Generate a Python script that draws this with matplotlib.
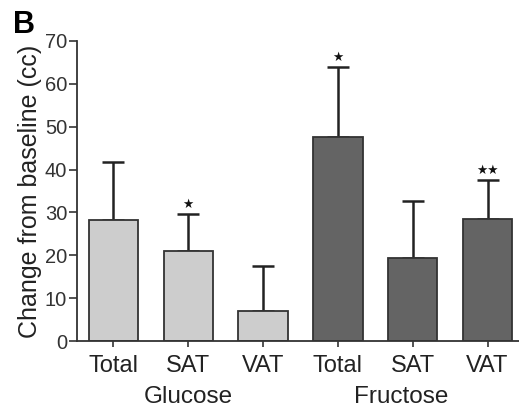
import numpy as np
import matplotlib
matplotlib.use("Agg")
import matplotlib.pyplot as plt

plt.rcParams['font.family'] = ['Liberation Sans', 'DejaVu Sans']

# change in fat volume from baseline, mean + SD
sites = ["Total", "SAT", "VAT", "Total", "SAT", "VAT"]
means = [28.3, 21.0, 7.0, 47.7, 19.3, 28.5]
upper = [41.8, 29.6, 17.6, 64.0, 32.7, 37.5]
stars = ["", "*", "", "*", "", "**"]
groups = ["Glucose", "Fructose"]
group_pos = [1, 3.85]
colors = ["#cdcdcd"] * 3 + ["#646464"] * 3

fig = plt.figure(figsize=(5.19, 4.09), dpi=100)
ax = fig.add_axes([0.148, 0.166, 0.852, 0.734])

x = np.arange(len(means))
err = np.array(upper) - np.array(means)
ax.errorbar(x, means, yerr=[np.zeros_like(err), err], fmt="none",
            ecolor="#222222", elinewidth=1.8, capsize=8, capthick=1.8, zorder=1)
ax.bar(x, means, width=0.66, color=colors, edgecolor="#333333", linewidth=1.3,
       zorder=2)

for xi, top, s in zip(x, upper, stars):
    if s:
        ax.text(xi, top + 0.7, s.replace("*", "\u2605"), ha="center", va="bottom",
                fontsize=9, color="#111111")

ax.set_xlim(-0.49, 5.42)
ax.set_ylim(0, 70)
ax.set_yticks(range(0, 71, 10))
ax.set_xticks(x)
ax.set_xticklabels(sites, fontsize=17, color="#222222")
ax.tick_params(axis="y", labelsize=14.5, colors="#333333", length=6, width=1.2,
               labelcolor="#333333", pad=1)
ax.tick_params(axis="x", length=4, width=1.2, colors="#333333", labelcolor="#222222",
               pad=6)
for side in ["top", "right"]:
    ax.spines[side].set_visible(False)
for side in ["left", "bottom"]:
    ax.spines[side].set_linewidth(1.3)
    ax.spines[side].set_color("#333333")
    ax.spines[side].set_zorder(3)

ax.set_ylabel("Change from baseline (cc)", fontsize=18, color="#222222", labelpad=2)

for gx, g in zip(group_pos, groups):
    ax.text(gx, -0.185, g, transform=ax.get_xaxis_transform(), ha="center",
            va="center", fontsize=17.5, color="#222222")

fig.text(0.025, 0.975, "B", fontsize=22, fontweight="bold", va="top", ha="left")

fig.savefig("out.png", dpi=100)
